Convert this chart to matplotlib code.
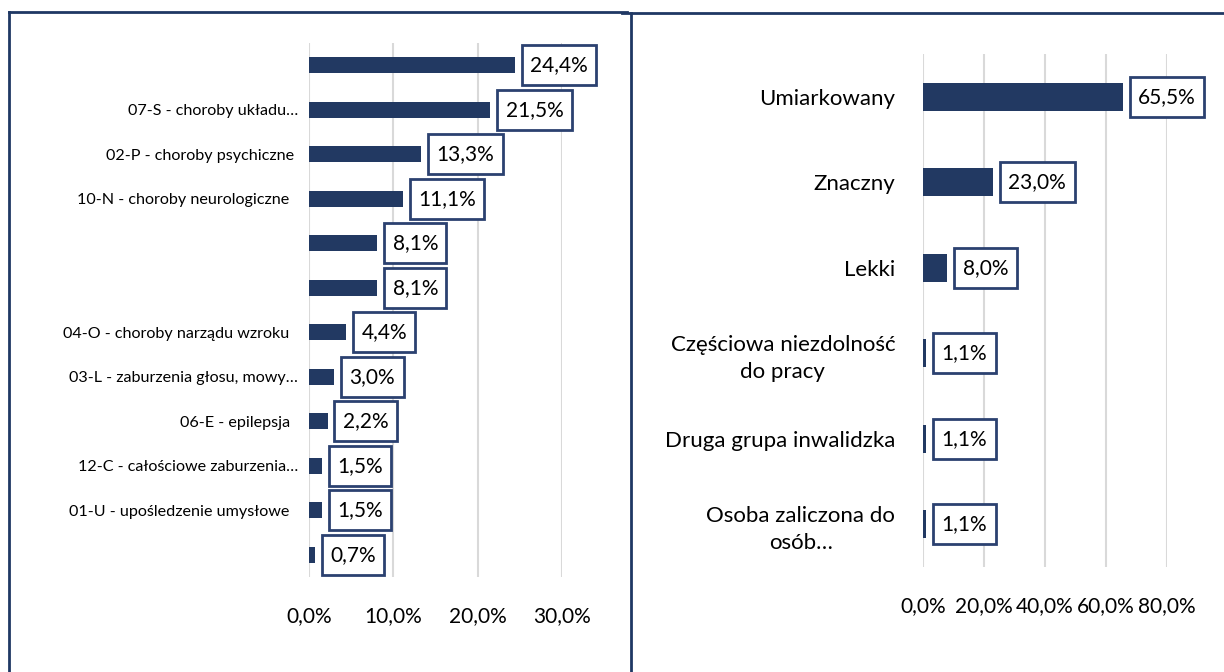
import matplotlib
matplotlib.use("Agg")
import matplotlib.pyplot as plt
from matplotlib.lines import Line2D
from matplotlib.path import Path

plt.rcParams['font.family'] = ['Lato', 'DejaVu Sans']

# left chart: rodzaj niepełnosprawności (top to bottom)
left_labels = ["", "07-S - choroby układu…", "02-P - choroby psychiczne ",
               "10-N - choroby neurologiczne  ", "", "",
               "04-O - choroby narządu wzroku  ", "03-L - zaburzenia głosu, mowy…",
               "06-E - epilepsja  ", "12-C - całościowe zaburzenia…",
               "01-U - upośledzenie umysłowe  ", ""]
left_values = [24.4, 21.5, 13.3, 11.1, 8.1, 8.1, 4.4, 3.0, 2.2, 1.5, 1.5, 0.7]
left_ticks = [0, 10, 20, 30]

# right chart: stopień niepełnosprawności
right_labels = ["Umiarkowany", "Znaczny", "Lekki",
                "Częściowa niezdolność\ndo pracy", "Druga grupa inwalidzka",
                "Osoba zaliczona do\nosób…"]
right_values = [65.5, 23.0, 8.0, 1.1, 1.1, 1.1]
right_ticks = [0, 20, 40, 60, 80]

bar_color = "#223962"
edge_color = "#2b4170"
grid_color = "#d9d9d9"


def pct(v):
    return ("%.1f%%" % v).replace(".", ",")


def label_box(x0, y0, width, height, mutation_size):
    # rectangle, a bit more padding top/bottom than left/right
    px = 0.4 * mutation_size
    py = 0.47 * mutation_size
    return Path([(x0 - px, y0 - py), (x0 + width + px, y0 - py),
                 (x0 + width + px, y0 + height + py), (x0 - px, y0 + height + py),
                 (x0 - px, y0 - py)], closed=True)


def draw(ax, labels, values, ticks, height, label_size, tick_size):
    ys = list(range(len(values)))
    ax.barh(ys, values, height=height, color=bar_color, zorder=3)
    ax.set_ylim(len(values) - 0.5, -0.5)
    ax.set_xlim(ticks[0], ticks[-1])
    ax.set_xticks(ticks)
    ax.set_xticklabels([pct(t) for t in ticks], fontsize=tick_size)
    ax.set_yticks(ys)
    ax.set_yticklabels(labels, fontsize=label_size, multialignment='center',
                       linespacing=1.45)
    ax.tick_params(axis='x', length=0, pad=21)
    ax.tick_params(axis='y', length=0, pad=8)
    ax.grid(axis='x', color=grid_color, linewidth=1.5, zorder=0)
    for s in ax.spines.values():
        s.set_visible(False)
    for y, v in zip(ys, values):
        ax.annotate(pct(v), (v, y), xytext=(11, 0), textcoords='offset points',
                    ha='left', va='center', fontsize=15, color='black',
                    annotation_clip=False, zorder=4,
                    bbox=dict(boxstyle=label_box, fc='white',
                              ec=edge_color, lw=2))


fig = plt.figure(figsize=(12.24, 6.72), dpi=100)

ax1 = fig.add_axes([309 / 1224, 1 - 577 / 672, 253 / 1224, 534 / 672])
draw(ax1, left_labels, left_values, left_ticks, 0.36, 11.6, 15)

ax2 = fig.add_axes([923 / 1224, 1 - 567 / 672, 244 / 1224, 513 / 672])
draw(ax2, right_labels, right_values, right_ticks, 0.33, 16, 15)
ax2.tick_params(axis='y', pad=20)

# panel frames
frame = "#1f3864"
fig.add_artist(Line2D([9 / 1224, 9 / 1224], [0, 1 - 12 / 672], color=frame, lw=2))
fig.add_artist(Line2D([9 / 1224, 627 / 1224], [1 - 12 / 672, 1 - 12 / 672], color=frame, lw=2))
fig.add_artist(Line2D([622 / 1224, 1], [1 - 13 / 672, 1 - 13 / 672], color=frame, lw=2))
fig.add_artist(Line2D([631 / 1224, 631 / 1224], [0, 1 - 13 / 672], color=frame, lw=2))

fig.savefig("out.png", dpi=100)
